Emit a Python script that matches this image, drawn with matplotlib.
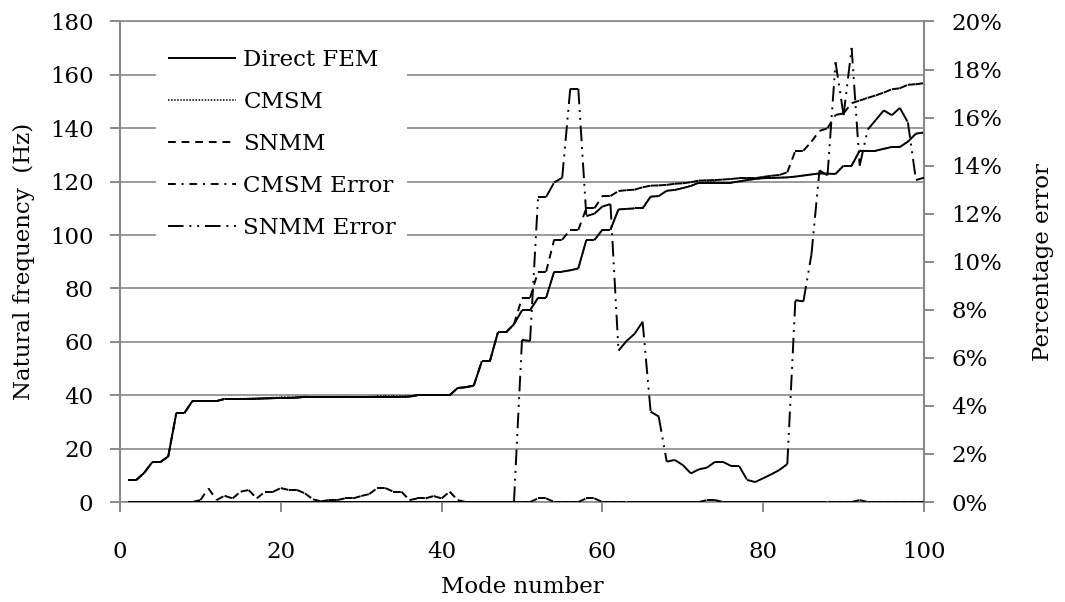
import numpy as np
import matplotlib
matplotlib.use('Agg')
import matplotlib.pyplot as plt
from matplotlib.collections import LineCollection
from matplotlib.ticker import FuncFormatter

# ---------------- data ----------------
modes = list(range(1, 101))

fem = [8.2, 8.2, 10.9, 14.9, 14.9, 17.1, 33.3, 33.3, 37.8, 37.8,
       37.8, 37.8, 38.6, 38.6, 38.6, 38.6, 38.7, 38.8, 38.9, 39.0,
       39.0, 39.1, 39.4, 39.4, 39.4, 39.4, 39.4, 39.4, 39.4, 39.4,
       39.4, 39.4, 39.4, 39.4, 39.4, 39.5, 40.0, 40.0, 40.0, 40.0,
       40.0, 42.7, 43.0, 43.6, 52.7, 52.7, 63.5, 63.5, 66.6, 71.8,
       71.8, 76.5, 76.5, 86.3, 86.3, 86.8, 87.5, 98.1, 98.1, 102.0,
       102.0, 109.6, 109.8, 110.0, 110.0, 114.4, 114.6, 116.6, 116.9, 117.6,
       118.4, 119.6, 119.6, 119.6, 119.6, 119.6, 120.1, 120.6, 121.0, 121.3,
       121.4, 121.5, 121.6, 121.9, 122.3, 122.7, 123.1, 123.0, 122.9, 126.0,
       126.0, 131.6, 131.6, 131.6, 132.3, 133.0, 133.0, 135.0, 138.0, 138.4]

cmsm = [8.2, 8.2, 10.9, 14.9, 14.9, 17.1, 33.3, 33.3, 37.8, 37.8,
        37.9, 37.8, 38.7, 38.6, 38.7, 38.8, 38.7, 38.9, 39.1, 39.2,
        39.2, 39.3, 39.5, 39.4, 39.4, 39.4, 39.4, 39.5, 39.5, 39.5,
        39.5, 39.6, 39.6, 39.6, 39.6, 39.5, 40.1, 40.1, 40.1, 40.1,
        40.2, 42.7, 43.0, 43.6, 52.7, 52.7, 63.5, 63.5, 66.6, 71.8,
        71.8, 76.6, 76.6, 86.3, 86.3, 86.8, 87.5, 98.2, 98.2, 102.0,
        102.0, 109.6, 109.8, 110.0, 110.0, 114.4, 114.6, 116.6, 116.9, 117.6,
        118.4, 119.6, 119.7, 119.7, 119.6, 119.6, 120.1, 120.6, 121.0, 121.3,
        121.4, 121.5, 121.6, 121.9, 122.3, 122.7, 123.1, 123.0, 122.9, 126.0,
        126.0, 131.7, 131.6, 131.6, 132.3, 133.0, 133.0, 135.0, 138.0, 138.4]

snmm = [8.2, 8.2, 10.9, 14.9, 14.9, 17.1, 33.3, 33.3, 37.8, 37.8,
        37.8, 37.8, 38.6, 38.6, 38.6, 38.6, 38.7, 38.8, 38.9, 39.0,
        39.0, 39.1, 39.4, 39.4, 39.4, 39.4, 39.4, 39.4, 39.4, 39.4,
        39.4, 39.4, 39.4, 39.4, 39.4, 39.5, 40.0, 40.0, 40.0, 40.0,
        40.0, 42.7, 43.0, 43.6, 52.7, 52.7, 63.5, 63.5, 66.6, 76.5,
        76.5, 86.3, 86.3, 98.3, 98.3, 101.9, 101.9, 110.0, 110.0, 114.6,
        114.6, 116.5, 116.8, 117.0, 117.9, 118.5, 118.6, 118.8, 119.2, 119.4,
        119.8, 120.4, 120.5, 120.6, 120.8, 121.0, 121.3, 121.3, 121.3, 121.8,
        122.2, 122.5, 123.5, 131.6, 131.6, 135.0, 139.0, 140.0, 145.0, 145.6,
        149.4, 150.4, 151.4, 152.3, 153.4, 154.6, 155.0, 156.3, 156.5, 156.9]

cmsm_err = [0, 0, 0, 0, 0, 0, 0, 0, 0, 0.08,
            0.57, 0.08, 0.26, 0.15, 0.43, 0.50, 0.15, 0.42, 0.42, 0.58,
            0.50, 0.50, 0.36, 0.11, 0.03, 0.08, 0.08, 0.15, 0.15, 0.25,
            0.33, 0.58, 0.58, 0.43, 0.43, 0.08, 0.15, 0.15, 0.25, 0.15,
            0.43, 0.08, 0, 0, 0, 0, 0, 0, 0, 0,
            0, 0.15, 0.15, 0, 0, 0, 0, 0.15, 0.15, 0,
            0, 0, 0, 0, 0, 0, 0, 0, 0, 0,
            0, 0, 0.08, 0.08, 0, 0, 0, 0, 0, 0,
            0, 0, 0, 0, 0, 0, 0, 0, 0, 0,
            0, 0.08, 0, 0, 0, 0, 0, 0, 0, 0]

snmm_err = [0, 0, 0, 0, 0, 0, 0, 0, 0, 0,
            0, 0, 0, 0, 0, 0, 0, 0, 0, 0,
            0, 0, 0, 0, 0, 0, 0, 0, 0, 0,
            0, 0, 0, 0, 0, 0, 0, 0, 0, 0,
            0, 0, 0, 0, 0, 0, 0, 0, 0, 6.75,
            6.7, 12.7, 12.7, 13.3, 13.5, 17.2, 17.2, 11.9, 12.0, 12.3,
            12.4, 6.3, 6.7, 7.0, 7.5, 3.76, 3.56, 1.68, 1.75, 1.54,
            1.19, 1.36, 1.43, 1.67, 1.67, 1.5, 1.5, 0.92, 0.83, 0.99,
            1.15, 1.33, 1.58, 8.4, 8.35, 10.3, 13.8, 13.6, 18.3, 16.1,
            18.9, 14.0, 15.5, 15.9, 16.3, 16.1, 16.4, 15.8, 13.4, 13.5]

x_ticks = [0, 20, 40, 60, 80, 100]
freq_ticks = [0, 20, 40, 60, 80, 100, 120, 140, 160, 180]
err_ticks = [0, 2, 4, 6, 8, 10, 12, 14, 16, 18, 20]

series_labels = ['Direct FEM', 'CMSM', 'SNMM', 'CMSM Error', 'SNMM Error']

# ---------------- style ----------------
plt.rcParams['font.family'] = ['DejaVu Serif']
FS = 16.5
GRAY = '#898989'
LW = 1.4

def segments(x, y):
    pts = np.column_stack([np.asarray(x, float), np.asarray(y, float)])
    return np.stack([pts[:-1], pts[1:]], axis=1)

fig = plt.figure(figsize=(10.65, 6.02), dpi=100)
ax = fig.add_axes([0.1127, 0.1661, 0.7549, 0.7982])
ax2 = ax.twinx()

ax.set_xlim(0, 100)
ax.set_ylim(0, 180)
ax2.set_ylim(0, 20)

styles = {
    'Direct FEM': dict(linestyles='solid', linewidths=LW),
    'CMSM': dict(linestyles=[(0, (1, 1))], linewidths=1.1),
    'SNMM': dict(linestyles=[(0, (4, 3))], linewidths=LW),
    'CMSM Error': dict(linestyles=[(0, (4, 3, 1, 3))], linewidths=LW),
    'SNMM Error': dict(linestyles=[(0, (8, 3, 1, 3, 1, 3))], linewidths=LW),
}

handles = []
for lab, ydata, axis in [('Direct FEM', fem, ax), ('CMSM', cmsm, ax), ('SNMM', snmm, ax),
                         ('CMSM Error', cmsm_err, ax2), ('SNMM Error', snmm_err, ax2)]:
    lc = LineCollection(segments(modes, ydata), colors='black', capstyle='butt',
                        joinstyle='miter', label=lab, zorder=3, **styles[lab])
    axis.add_collection(lc)
    handles.append(lc)

# grid & spines
ax.set_yticks(freq_ticks)
ax.set_xticks(x_ticks)
ax2.set_yticks(err_ticks)
ax2.yaxis.set_major_formatter(FuncFormatter(lambda v, p: f'{v:.0f}%'))

ax.yaxis.grid(True, color=GRAY, linewidth=1.2)
ax.xaxis.grid(False)
ax.set_axisbelow(True)

for a in (ax, ax2):
    for s in a.spines.values():
        s.set_visible(False)
ax.spines['left'].set_visible(True)
ax.spines['left'].set_color(GRAY)
ax.spines['left'].set_linewidth(1.5)
ax.spines['bottom'].set_visible(True)
ax.spines['bottom'].set_color(GRAY)
ax.spines['bottom'].set_linewidth(1.2)
ax.spines['top'].set_visible(True)
ax.spines['top'].set_color(GRAY)
ax.spines['top'].set_linewidth(1.2)
ax2.spines['right'].set_visible(True)
ax2.spines['right'].set_color(GRAY)
ax2.spines['right'].set_linewidth(1.5)

ax.tick_params(axis='both', direction='out', length=7.2, width=1.4, color=GRAY,
               labelsize=FS, labelcolor='black')
ax.tick_params(axis='x', pad=21)
ax.tick_params(axis='y', pad=12)
ax2.tick_params(axis='y', direction='out', length=7.2, width=1.4, color=GRAY,
                labelsize=FS, labelcolor='black', pad=12.5)

ax.set_xlabel('Mode number', fontsize=FS)
ax.set_ylabel('Natural frequency  (Hz)', fontsize=FS)
ax2.set_ylabel('Percentage error', fontsize=FS)
ax.xaxis.set_label_coords(0.5, -0.155)
ax.yaxis.set_label_coords(-0.106, 0.5)
ax2.yaxis.set_label_coords(1.134, 0.5)

leg = ax2.legend(handles=handles, labels=series_labels, loc='upper left',
                 bbox_to_anchor=(0.045, 0.967), fontsize=FS, frameon=True,
                 handlelength=3.0, handletextpad=0.3, labelspacing=0.88,
                 borderpad=0.5, borderaxespad=0.0, fancybox=False)
leg.get_frame().set_facecolor('white')
leg.get_frame().set_edgecolor('none')
leg.get_frame().set_alpha(1.0)

fig.savefig('out.png', dpi=100)
